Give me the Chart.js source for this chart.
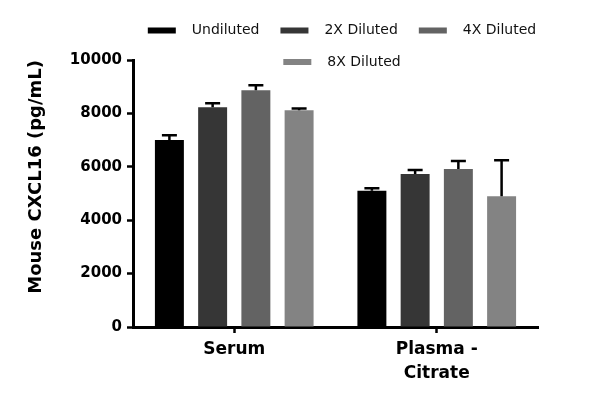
<!DOCTYPE html>
<html>
<head>
<meta charset="utf-8">
<script src="https://cdn.jsdelivr.net/npm/chart.js@4.4.0/dist/chart.umd.min.js"></script>
<style>
  html, body { margin: 0; padding: 0; background: #fff; }
  #wrap { width: 600px; height: 405px; }
</style>
</head>
<body>
<div id="wrap"><canvas id="cxclChart" width="600" height="405"></canvas></div>
<script>
// Données du graphique
const categories = ['Serum', ['Plasma -', 'Citrate']];
const seriesNames = ['Undiluted', '2X Diluted', '4X Diluted', '8X Diluted'];
const undiluted = [7000, 5100];
const diluted2x = [8230, 5730];
const diluted4x = [8870, 5920];
const diluted8x = [8120, 4900];
const errUndiluted = [180, 100];
const errDiluted2x = [150, 150];
const errDiluted4x = [185, 300];
const errDiluted8x = [65, 1350];
const yTicks = [0, 2000, 4000, 6000, 8000, 10000];

const barColors = ['#000000', '#363636', '#636363', '#838383'];
const police = 'DejaVu Sans';

// Barres d'erreur (vers le haut seulement)
const errorBarsPlugin = {
    id: 'errorBars',
    afterDatasetsDraw(chart) {
        const ctx = chart.ctx;
        const yScale = chart.scales.y;
        ctx.save();
        ctx.strokeStyle = '#000';
        ctx.lineWidth = 2.5;
        chart.data.datasets.forEach((ds, i) => {
            const meta = chart.getDatasetMeta(i);
            meta.data.forEach((bar, j) => {
                const top = yScale.getPixelForValue(ds.data[j] + ds.errors[j]);
                ctx.beginPath();
                ctx.moveTo(bar.x, bar.y);
                ctx.lineTo(bar.x, top);
                ctx.moveTo(bar.x - 7.5, top);
                ctx.lineTo(bar.x + 7.5, top);
                ctx.stroke();
            });
        });
        ctx.restore();
    }
};

// Légende dessinée à la main (elle chevauche le haut du graphique)
const legendPlugin = {
    id: 'legendeManuelle',
    afterDraw(chart) {
        const ctx = chart.ctx;
        const datasets = chart.data.datasets;
        const rows = [[0, 1, 2], [3]];
        const rowY = [30.5, 62];
        ctx.save();
        ctx.font = '14px "' + police + '"';
        ctx.textBaseline = 'middle';
        rows.forEach((row, r) => {
            const widths = row.map(i => 28 + 16 + ctx.measureText(datasets[i].label).width);
            const total = widths.reduce((a, b) => a + b, 0) + 21 * (row.length - 1);
            let x = 342 - total / 2;
            row.forEach((i, k) => {
                ctx.fillStyle = datasets[i].backgroundColor;
                ctx.fillRect(x, rowY[r] - 3, 28, 6);
                ctx.fillStyle = '#111';
                ctx.fillText(datasets[i].label, x + 44, rowY[r]);
                x += widths[k] + 21;
            });
        });
        ctx.restore();
    }
};

function initChart() {
    const chartEl = document.getElementById('cxclChart');
    const values = [undiluted, diluted2x, diluted4x, diluted8x];
    const errors = [errUndiluted, errDiluted2x, errDiluted4x, errDiluted8x];

    new Chart(chartEl, {
        type: 'bar',
        data: {
            labels: categories,
            datasets: seriesNames.map((name, i) => ({
                label: name,
                data: values[i],
                errors: errors[i],
                backgroundColor: barColors[i],
                borderWidth: 0,
                barPercentage: 0.67,
                categoryPercentage: 0.854
            }))
        },
        options: {
            responsive: false,
            animation: false,
            layout: { padding: { left: 0, right: 62, top: 60, bottom: 0 } },
            plugins: { legend: { display: false }, tooltip: { enabled: false } },
            scales: {
                x: {
                    z: 1,
                    grid: { drawOnChartArea: false, offset: false, tickLength: 6, tickWidth: 2.5, tickColor: '#000' },
                    border: { color: '#000', width: 3 },
                    ticks: {
                        color: '#000',
                        maxRotation: 0,
                        autoSkip: false,
                        padding: 5,
                        font: { family: police, weight: 'bold', size: 17, lineHeight: 1.4 }
                    },
                    afterFit: s => { s.height = 78; }
                },
                y: {
                    z: 1,
                    min: 0,
                    max: 10000,
                    afterBuildTicks: s => { s.ticks = yTicks.map(v => ({ value: v })); },
                    grid: { drawOnChartArea: false, tickLength: 6, tickWidth: 2.5, tickColor: '#000' },
                    border: { color: '#000', width: 3 },
                    ticks: {
                        color: '#000',
                        padding: 5,
                        callback: v => String(v),
                        font: { family: police, weight: 'bold', size: 15 }
                    },
                    title: {
                        display: true,
                        text: 'Mouse CXCL16 (pg/mL)',
                        color: '#000',
                        align: 'end',
                        font: { family: police, weight: 'bold', size: 18 },
                        padding: { top: 26, bottom: 0 }
                    },
                    afterFit: s => { s.width = 133; }
                }
            }
        },
        plugins: [errorBarsPlugin, legendPlugin]
    });
}

document.addEventListener('DOMContentLoaded', initChart);
</script>
</body>
</html>
